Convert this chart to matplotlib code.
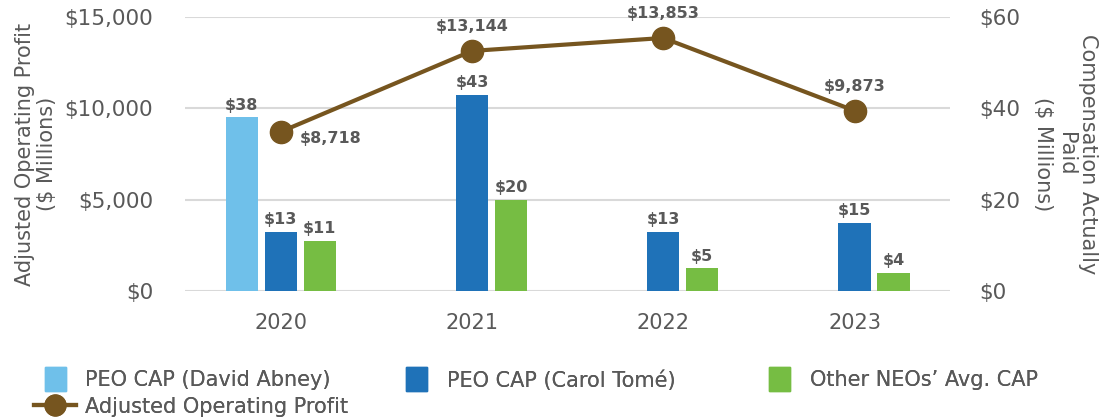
import matplotlib
matplotlib.use("Agg")
import matplotlib.pyplot as plt
from matplotlib.lines import Line2D
from matplotlib.patches import Patch, Rectangle
from matplotlib.legend_handler import HandlerPatch
import numpy as np

# Datos del grafico
anios = ["2020", "2021", "2022", "2023"]
cap_abney = [38, None, None, None]
cap_tome = [13, 43, 13, 15]
cap_otros = [11, 20, 5, 4]
utilidad = [8718, 13144, 13853, 9873]

azul_claro = "#6FC0EA"
azul = "#1F72B8"
verde = "#76BD43"
cafe = "#76551F"
gris = "#595959"

plt.rcParams["font.family"] = "DejaVu Sans"

fig = plt.figure(figsize=(11.1, 4.2), dpi=100)
ax = fig.add_axes([0.1667, 0.307, 0.6893, 0.6525])
ax2 = ax.twinx()

x = np.arange(len(anios))
ancho = 0.168
paso = 0.204

# Barras en el eje derecho
for serie, color, desp in [(cap_abney, azul_claro, -paso), (cap_tome, azul, 0), (cap_otros, verde, paso)]:
    for xi, v in zip(x, serie):
        if v is None:
            continue
        ax2.bar(xi + desp, v, width=ancho, color=color, zorder=2)
        ax2.text(xi + desp, v + 1.0, "$%d" % v, ha="center", va="bottom",
                 fontsize=11.5, fontweight="bold", color=gris)

# Linea en el eje izquierdo (dibujada encima)
ax.set_zorder(ax2.get_zorder() + 1)
ax.patch.set_visible(False)
ax.plot(x, utilidad, color=cafe, lw=3, marker="o", markersize=16, zorder=5)
for i, v in enumerate(utilidad):
    if i == 0:
        ax.annotate("${:,}".format(v), (x[i], v), xytext=(14, -5), textcoords="offset points",
                    ha="left", va="center", fontsize=11.5, fontweight="bold", color=gris)
    else:
        ax.annotate("${:,}".format(v), (x[i], v), xytext=(0, 12), textcoords="offset points",
                    ha="center", va="bottom", fontsize=11.5, fontweight="bold", color=gris)

ax.set_xlim(-0.5, 3.5)
ax.set_ylim(0, 15000)
ax2.set_ylim(0, 60)
ax.set_yticks([0, 5000, 10000, 15000])
ax.set_yticklabels(["$0", "$5,000", "$10,000", "$15,000"])
ax2.set_yticks([0, 20, 40, 60])
ax2.set_yticklabels(["$0", "$20", "$40", "$60"])
ax.set_xticks(x)
ax.set_xticklabels(anios)

# rejilla detras de las barras
ax.grid(False)
ax2.grid(axis="y", color="#D9D9D9", lw=1.5, zorder=0)
ax2.set_axisbelow(True)
for a in (ax, ax2):
    for s in a.spines.values():
        s.set_visible(False)
    a.tick_params(length=0, colors=gris, labelsize=15.5)
ax.tick_params(axis="x", pad=16, labelsize=15)
ax.tick_params(axis="y", pad=23)
ax2.tick_params(axis="y", pad=21)

ax.set_ylabel("Adjusted Operating Profit\n($ Millions)", fontsize=15, color=gris, labelpad=5, linespacing=1.15)
ax2.set_ylabel("Compensation Actually\nPaid\n($ Millions)", fontsize=15, color=gris, rotation=270,
               labelpad=56, linespacing=1.15)


def cuadro(legend, orig_handle, xdescent, ydescent, width, height, fontsize):
    w = 21 * 72 / 100
    return Rectangle((-xdescent + (width - w) / 2, -ydescent - 2), w, height + 4)


manejador = {Patch: HandlerPatch(patch_func=cuadro)}
columnas = [
    ([Patch(color=azul_claro, label="PEO CAP (David Abney)"),
      Line2D([], [], color=cafe, lw=3, marker="o", markersize=15, label="Adjusted Operating Profit")], 0.031),
    ([Patch(color=azul, label="PEO CAP (Carol Tomé)")], 0.3565),
    ([Patch(color=verde, label="Other NEOs\u2019 Avg. CAP")], 0.6835),
]
for hs, x0 in columnas:
    leg = fig.legend(handles=hs, loc="upper left", bbox_to_anchor=(x0, 0.119),
                     frameon=False, fontsize=15, handlelength=2.0, handleheight=1.0,
                     labelspacing=0.3, handletextpad=0.45, borderpad=0, borderaxespad=0,
                     handler_map=manejador)
    for t in leg.get_texts():
        t.set_color(gris)
    fig.add_artist(leg)

fig.savefig("out.png", dpi=100)
